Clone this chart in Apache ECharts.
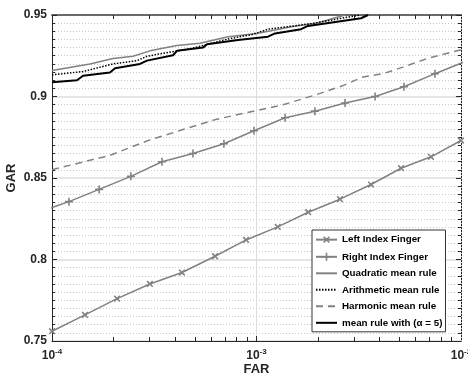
<!DOCTYPE html>
<html>
<head>
<meta charset="utf-8">
<script src="https://cdn.jsdelivr.net/npm/echarts@6/dist/echarts.min.js"></script>
<style>
  html, body { margin: 0; padding: 0; background: #fff; }
  #chart { width: 468px; height: 376px; }
</style>
</head>
<body>
<div id="chart"></div>
<script>
// values (FAR on a log axis, GAR linear)
const seriesNames = ['Left Index Finger', 'Right Index Finger', 'Quadratic mean rule',
  'Arithmetic mean rule', 'Harmonic mean rule', 'mean rule with (\u03b1 = 5)'];

const leftX = [1.00e-4, 1.45e-4, 2.08e-4, 3.01e-4, 4.32e-4, 6.27e-4, 8.89e-4, 1.27e-3, 1.79e-3, 2.56e-3, 3.63e-3, 5.09e-3, 7.13e-3, 1.00e-2];
const leftY = [0.756, 0.766, 0.776, 0.785, 0.792, 0.802, 0.812, 0.820, 0.829, 0.837, 0.846, 0.856, 0.863, 0.873];

const rightX = [8.59e-5, 1.21e-4, 1.70e-4, 2.43e-4, 3.45e-4, 4.89e-4, 6.93e-4, 9.72e-4, 1.38e-3, 1.93e-3, 2.71e-3, 3.80e-3, 5.26e-3, 7.46e-3, 1.05e-2];
const rightY = [0.829, 0.8355, 0.843, 0.851, 0.860, 0.865, 0.871, 0.879, 0.887, 0.891, 0.896, 0.900, 0.906, 0.914, 0.9215];

const quadX = [1.00e-4, 1.534e-4, 1.987e-4, 2.489e-4, 3.015e-4, 4.086e-4, 5.29e-4, 7.26e-4, 1.0055e-3, 1.458e-3, 1.999e-3, 2.71e-3];
const quadY = [0.916, 0.920, 0.9233, 0.9247, 0.928, 0.9313, 0.9327, 0.9367, 0.9387, 0.9427, 0.9453, 0.950];

const arithX = [1.00e-4, 1.418e-4, 1.987e-4, 2.604e-4, 2.914e-4, 4.086e-4, 4.73e-4, 7.26e-4, 9.51e-4, 1.138e-3, 1.868e-3, 2.965e-3, 3.207e-3];
const arithY = [0.9133, 0.9153, 0.920, 0.922, 0.9247, 0.928, 0.9293, 0.9353, 0.938, 0.9413, 0.9447, 0.9493, 0.950];

const harmX = [1.00e-4, 1.92e-4, 3.01e-4, 4.37e-4, 6.41e-4, 9.29e-4, 1.348e-3, 1.98e-3, 2.65e-3, 3.32e-3, 4.16e-3, 5.20e-3, 6.82e-3, 1.00e-2];
const harmY = [0.8551, 0.8639, 0.8734, 0.8797, 0.8861, 0.8905, 0.8949, 0.9013, 0.9067, 0.912, 0.914, 0.918, 0.9233, 0.9287];

const alphaX = [1.00e-4, 1.325e-4, 1.418e-4, 1.921e-4, 2.033e-4, 2.693e-4, 2.914e-4, 3.906e-4, 4.086e-4, 5.475e-4, 5.73e-4, 8.12e-4, 1.138e-3, 1.232e-3, 1.651e-3, 1.786e-3, 3.243e-3, 3.51e-3];
const alphaY = [0.9087, 0.910, 0.9127, 0.9147, 0.9173, 0.920, 0.922, 0.9253, 0.928, 0.930, 0.932, 0.9347, 0.9367, 0.9387, 0.9413, 0.9433, 0.948, 0.950];

// minor decade positions for the dotted grid on the log axis
const farMinor = [2e-4, 3e-4, 4e-4, 5e-4, 6e-4, 7e-4, 8e-4, 9e-4, 2e-3, 3e-3, 4e-3, 5e-3, 6e-3, 7e-3, 8e-3, 9e-3];

const xMin = 1e-4, xMax = 1e-2;
const yMin = 0.75, yMax = 0.95;

const FONT = 'Liberation Sans, Arial, sans-serif';
const TXT = '#262626';
const GRAY = '#828282';
const plusPath = 'path://M4,0H6V4H10V6H6V10H4V6H0V4H4Z';

const gridBox = {left: 52, right: 7, top: 15, bottom: 35};
const plotH = 376 - gridBox.top - gridBox.bottom;
const tickLen = (yMax - yMin) * 4 / plotH;

const pairs = (xs, ys) => xs.map((x, i) => [x, ys[i]]);

const chart = echarts.init(document.getElementById('chart'));

const minorGrid = farMinor.map(v => ({xAxis: v}));
const minorTicks = [];
farMinor.forEach(v => {
  minorTicks.push([{coord: [v, yMin]}, {coord: [v, yMin + tickLen]}]);
  minorTicks.push([{coord: [v, yMax]}, {coord: [v, yMax - tickLen]}]);
});

const supLabel = (v) => {
  const e = Math.round(Math.log10(v));
  return '{b|10}{s|' + e + '}';
};

// legend entries; plain-line series get their symbol hidden
const legendData = seriesNames.map((n, i) => i < 2 ? {name: n} : {name: n, itemStyle: {opacity: 0}});

const option = {
  animation: false,
  textStyle: {fontFamily: FONT},
  grid: Object.assign({containLabel: false, outerBoundsMode: 'none'}, gridBox),
  legend: {
    orient: 'vertical',
    left: 312,
    top: 230,
    backgroundColor: '#fff',
    borderColor: '#333',
    borderWidth: 1,
    padding: [4, 3, 4, 3],
    itemGap: 6.5,
    itemWidth: 21,
    itemHeight: 10,
    textStyle: {fontSize: 9.8, fontWeight: 'bold', color: '#000', fontFamily: FONT},
    data: legendData
  },
  xAxis: [{
    type: 'log',
    min: xMin,
    max: xMax,
    logBase: 10,
    name: 'FAR',
    nameLocation: 'middle',
    nameGap: 22,
    nameMoveOverlap: false,
    nameTextStyle: {fontSize: 13, fontWeight: 'bold', color: TXT},
    axisLine: {lineStyle: {color: TXT, width: 1}},
    axisTick: {inside: true, length: 5, lineStyle: {color: TXT}},
    axisLabel: {
      margin: 7,
      formatter: supLabel,
      rich: {
        b: {fontSize: 12, fontWeight: 'bold', color: TXT, fontFamily: FONT},
        s: {fontSize: 8, fontWeight: 'bold', color: TXT, fontFamily: FONT, padding: [0, 0, 7, 0]}
      }
    },
    splitLine: {show: true, lineStyle: {color: '#dcdcdc', width: 1}}
  }, {
    type: 'log',
    min: xMin,
    max: xMax,
    position: 'top',
    axisLine: {lineStyle: {color: '#6a6a6a', width: 2}},
    axisTick: {inside: true, length: 5, lineStyle: {color: TXT}},
    axisLabel: {show: false},
    splitLine: {show: false}
  }],
  yAxis: [{
    type: 'value',
    min: yMin,
    max: yMax,
    interval: 0.05,
    name: 'GAR',
    nameLocation: 'middle',
    nameGap: 34,
    nameMoveOverlap: false,
    nameTextStyle: {fontSize: 13, fontWeight: 'bold', color: TXT},
    axisLine: {show: true, lineStyle: {color: TXT, width: 1}},
    axisTick: {show: true, inside: true, length: 5, lineStyle: {color: TXT}},
    minorTick: {show: true, splitNumber: 10, length: 3, lineStyle: {color: TXT}},
    axisLabel: {
      margin: 5,
      fontSize: 12,
      fontWeight: 'bold',
      color: TXT,
      formatter: v => String(+v.toFixed(2))
    },
    splitLine: {show: true, lineStyle: {color: '#dcdcdc', width: 1.5}},
    minorSplitLine: {show: true, lineStyle: {color: '#c8c8c8', type: [1, 2], width: 1}}
  }, {
    type: 'value',
    min: yMin,
    max: yMax,
    interval: 0.05,
    position: 'right',
    axisLine: {show: true, lineStyle: {color: TXT, width: 1}},
    axisTick: {show: true, inside: true, length: 5, lineStyle: {color: TXT}},
    minorTick: {show: true, splitNumber: 10, length: 3, lineStyle: {color: TXT}},
    axisLabel: {show: false},
    splitLine: {show: false}
  }],
  series: [{
    name: seriesNames[0],
    type: 'line',
    data: pairs(leftX, leftY),
    symbol: plusPath,
    symbolRotate: 45,
    symbolSize: 8,
    color: GRAY,
    lineStyle: {color: GRAY, width: 1.5},
    itemStyle: {color: GRAY},
    z: 3,
    markLine: {
      silent: true,
      symbol: 'none',
      label: {show: false},
      animation: false,
      lineStyle: {color: '#c8c8c8', type: [1, 2], width: 1},
      data: minorGrid
    }
  }, {
    name: seriesNames[1],
    type: 'line',
    data: pairs(rightX, rightY),
    symbol: plusPath,
    symbolSize: 8,
    color: GRAY,
    lineStyle: {color: GRAY, width: 1.5},
    itemStyle: {color: GRAY},
    z: 3,
    markLine: {
      silent: true,
      symbol: 'none',
      label: {show: false},
      animation: false,
      lineStyle: {color: TXT, type: 'solid', width: 1},
      data: minorTicks
    }
  }, {
    name: seriesNames[2],
    type: 'line',
    data: pairs(quadX, quadY),
    symbol: 'none',
    color: GRAY,
    lineStyle: {color: GRAY, width: 1.5},
    z: 4
  }, {
    name: seriesNames[3],
    type: 'line',
    data: pairs(arithX, arithY),
    symbol: 'none',
    color: '#000',
    lineStyle: {color: '#000', width: 1.5, type: [1.5, 1.5]},
    z: 5
  }, {
    name: seriesNames[4],
    type: 'line',
    data: pairs(harmX, harmY),
    symbol: 'none',
    color: GRAY,
    lineStyle: {color: GRAY, width: 1.5, type: [7, 5]},
    z: 4
  }, {
    name: seriesNames[5],
    type: 'line',
    data: pairs(alphaX, alphaY),
    symbol: 'none',
    color: '#000',
    lineStyle: {color: '#000', width: 2},
    z: 6
  }]
};

chart.setOption(option);
</script>
</body>
</html>
